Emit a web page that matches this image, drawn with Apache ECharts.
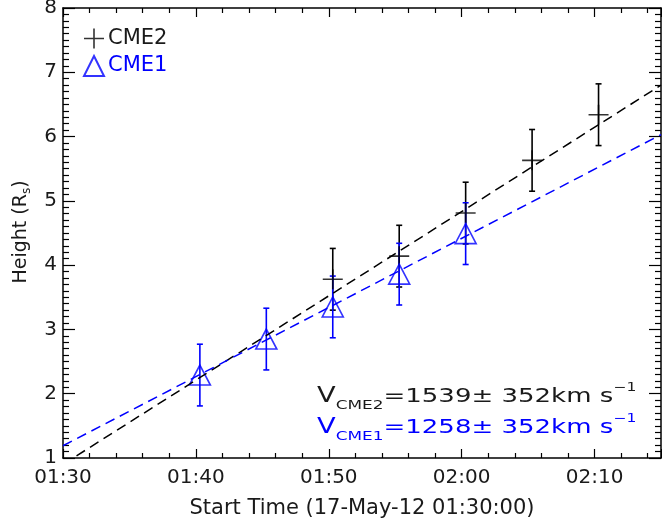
<!DOCTYPE html>
<html>
<head>
<meta charset="utf-8">
<script src="https://cdn.jsdelivr.net/npm/echarts@6/dist/echarts.min.js"></script>
<style>html,body{margin:0;padding:0;background:#fff}#c{width:662px;height:521px}</style>
</head>
<body>
<div id="c"></div>
<script>
// minutes after 01:30:00
const xTickLabels = ['01:30','01:40','01:50','02:00','02:10'];
const cme2Time = [20.3, 25.3, 30.3, 35.3, 40.3];
const cme2Height = [3.78, 4.14, 4.81, 5.63, 6.34];
const cme1Time = [10.3, 15.3, 20.3, 25.3, 30.3];
const cme1Height = [2.29, 2.85, 3.35, 3.86, 4.49];
const heightErr = 0.48;
const fitTime = [0, 45];
const cme2Fit = [0.90, 6.80];
const cme1Fit = [1.19, 6.03];
const speedText = ['1539', '1258'];
const speedErr = '352';

const FONT = 'DejaVu Sans';
const INK = '#1a1a1a';
const BLUE = '#0000ff';
const plusPath = 'path://M0,9.2L20,9.2L20,10.8L0,10.8Z M9.2,0L10.8,0L10.8,20L9.2,20Z';

const pts = (xs, ys) => xs.map((x,i)=>[x, ys[i]]);
const errs = (xs, ys) => xs.map((x,i)=>[x, ys[i]-heightErr, ys[i]+heightErr]);

function errBar(color){
  return function(params, api){
    const x = api.value(0);
    const lo = api.coord([x, api.value(1)]);
    const hi = api.coord([x, api.value(2)]);
    const st = {stroke: color, lineWidth: 1.6};
    return {type:'group', children:[
      {type:'line', shape:{x1:lo[0], y1:lo[1], x2:hi[0], y2:hi[1]}, style:st},
      {type:'line', shape:{x1:lo[0]-3, y1:lo[1], x2:lo[0]+3, y2:lo[1]}, style:st},
      {type:'line', shape:{x1:hi[0]-3, y1:hi[1], x2:hi[0]+3, y2:hi[1]}, style:st}
    ]};
  };
}

function speedLabel(name, val, color, y){
  return {type:'text', x:317, y:y, scaleX:1.3, style:{
    text:'{v|V}{s|' + name + '}{n|=' + val + '± ' + speedErr + 'km s}{p|−1}',
    rich:{
      v:{fontFamily:FONT, fontSize:21, fill:color, verticalAlign:'middle', lineHeight:30},
      s:{fontFamily:FONT, fontSize:13, fill:color, verticalAlign:'bottom', lineHeight:13},
      n:{fontFamily:FONT, fontSize:20, fill:color, verticalAlign:'middle', lineHeight:30},
      p:{fontFamily:FONT, fontSize:12, fill:color, verticalAlign:'top', lineHeight:13}
    }}};
}

const tick = {show:true, inside:true, lineStyle:{color:'#000', width:1.2}};
const axLine = {show:true, onZero:false, lineStyle:{color:'#000', width:1.5}};
const xMinor = {show:true, splitNumber:5, length:5, lineStyle:{color:'#000', width:1.2}};
const yMinor = {show:true, splitNumber:10, length:6, lineStyle:{color:'#000', width:1.2}};

const chart = echarts.init(document.getElementById('c'), null, {renderer:'canvas'});
chart.setOption({
  animation:false,
  textStyle:{fontFamily:FONT},
  grid:{left:63, right:1, top:8, bottom:63, outerBoundsMode:'none'},
  xAxis:[{
    type:'value', min:0, max:45, interval:10, position:'bottom',
    axisLine:axLine, axisTick:Object.assign({length:9}, tick), minorTick:xMinor,
    splitLine:{show:false},
    axisLabel:{fontFamily:FONT, fontSize:20, color:INK, margin:10, showMaxLabel:false,
      formatter:v=>xTickLabels[Math.round(v/10)] || ''},
    name:'Start Time (17-May-12 01:30:00)', nameLocation:'middle', nameGap:40,
    nameTextStyle:{fontFamily:FONT, fontSize:21, color:INK}
  },{
    type:'value', min:0, max:45, interval:10, position:'top',
    axisLine:axLine, axisTick:Object.assign({length:9}, tick), minorTick:xMinor,
    splitLine:{show:false}, axisLabel:{show:false}
  }],
  yAxis:[{
    type:'value', min:1, max:8, interval:1, position:'left',
    axisLine:axLine, axisTick:Object.assign({length:12}, tick), minorTick:yMinor,
    splitLine:{show:false},
    axisLabel:{fontFamily:FONT, fontSize:20, color:INK, margin:6}
  },{
    type:'value', min:1, max:8, interval:1, position:'right',
    axisLine:axLine, axisTick:Object.assign({length:12}, tick), minorTick:yMinor,
    splitLine:{show:false}, axisLabel:{show:false}
  }],
  legend:{
    orient:'vertical', left:78, top:23, itemGap:6, itemWidth:20, itemHeight:20,
    textStyle:{fontFamily:FONT, fontSize:21, padding:[0,0,0,-1]},
    data:[
      {name:'CME2', icon:plusPath, textStyle:{color:INK}},
      {name:'CME1', icon:'triangle', textStyle:{color:BLUE}}
    ]
  },
  series:[
    {type:'line', name:'fit2', data:pts(fitTime, cme2Fit), symbol:'none', clip:true,
      lineStyle:{color:'#000', width:1.5, type:[10,6]}},
    {type:'custom', name:'err2', data:errs(cme2Time, cme2Height), renderItem:errBar('#000'), clip:true},
    {type:'scatter', name:'CME2', data:pts(cme2Time, cme2Height), symbol:plusPath, symbolSize:20,
      itemStyle:{color:'#000'}},
    {type:'line', name:'fit1', data:pts(fitTime, cme1Fit), symbol:'none', clip:true,
      lineStyle:{color:BLUE, width:1.5, type:[10,6]}},
    {type:'custom', name:'err1', data:errs(cme1Time, cme1Height), renderItem:errBar(BLUE), clip:true},
    {type:'scatter', name:'CME1', data:pts(cme1Time, cme1Height), symbol:'triangle', symbolSize:[21,20],
      itemStyle:{color:'rgba(0,0,0,0)', borderColor:BLUE, borderWidth:1.6}}
  ],
  graphic:[
    {type:'text', x:21, y:232, rotation:Math.PI/2, style:{
      text:'{a|Height (R}{s|s}{a|)}', align:'center', verticalAlign:'middle',
      rich:{
        a:{fontFamily:FONT, fontSize:19, fill:INK, verticalAlign:'middle', lineHeight:24},
        s:{fontFamily:FONT, fontSize:12, fill:INK, verticalAlign:'bottom', lineHeight:12}
      }}},
    speedLabel('CME2', speedText[0], INK, 382),
    speedLabel('CME1', speedText[1], BLUE, 413)
  ]
});
</script>
</body>
</html>
